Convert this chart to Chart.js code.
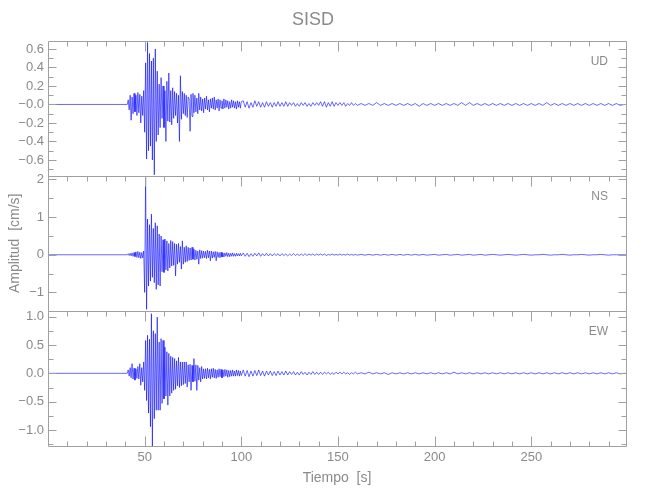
<!DOCTYPE html>
<html>
<head>
<meta charset="utf-8">
<script src="https://cdn.jsdelivr.net/npm/chart.js@4.4.1/dist/chart.umd.min.js"></script>
<style>
  body { margin: 0; background: #fff; }
  canvas { display: block; }
</style>
</head>
<body>
<canvas id="sismo" width="650" height="500"></canvas>
<script>
  // Sampling segments (start time, step in seconds)
  const onsetStart = 41, onsetStep = 0.5;   // 41 .. 100 s
  const codaStart = 101, codaStep = 1;      // 101 .. 160 s
  const tailStart = 162, tailStep = 2;      // 162 .. 298 s
  const traceEnd = 299;

  const components = ['UD', 'NS', 'EW'];

  // UD component [cm/s]
  const udOnset = [
    0.00, 0.05, -0.06, 0.10, -0.17, 0.08, -0.10, 0.12, -0.08, 0.10,
    -0.12, 0.13, -0.09, 0.11, -0.20, 0.09, -0.12, 0.15, -0.30, 0.45,
    -0.59, 0.67, -0.50, 0.55, -0.45, 0.47, -0.60, 0.50, -0.76, 0.60,
    -0.40, 0.36, -0.33, 0.22, -0.25, 0.29, -0.15, 0.20, -0.25, 0.15,
    -0.40, 0.25, -0.18, 0.34, -0.19, 0.15, -0.22, 0.18, -0.15, 0.14,
    -0.12, 0.12, -0.20, 0.10, -0.40, 0.31, -0.16, 0.14, -0.10, 0.12,
    -0.12, 0.10, -0.14, 0.08, 0.06, -0.29, 0.11, -0.13, 0.12, -0.09,
    0.10, -0.08, 0.07, -0.10, 0.12, -0.06, 0.08, -0.07, 0.06, -0.09,
    0.07, -0.05, 0.09, -0.06, 0.05, -0.08, 0.06, -0.04, 0.07, -0.05,
    0.08, -0.06, 0.05, -0.04, 0.06, -0.07, 0.05, -0.04, 0.04, -0.05,
    0.06, -0.04, 0.05, -0.03, 0.04, -0.05, 0.03, -0.04, 0.05, -0.03,
    0.04, -0.04, 0.03, -0.05, 0.04, -0.03, 0.03, -0.04, 0.03
  ];
  const udCoda = [
    0.04, -0.03, 0.03, -0.04, 0.02, -0.03, 0.04, -0.02, 0.03, -0.03,
    0.02, -0.03, 0.03, -0.02, 0.02, -0.03, 0.02, -0.02, 0.03, -0.02,
    0.02, -0.02, 0.03, -0.02, 0.02, -0.01, 0.02, -0.02, 0.01, -0.02,
    0.02, -0.01, 0.02, -0.02, 0.01, -0.02, 0.02, -0.01, 0.02, -0.01,
    0.03, -0.02, 0.03, -0.03, 0.02, -0.02, 0.03, -0.02, 0.02, -0.01,
    0.02, -0.01, 0.02, -0.02, 0.01, -0.01, 0.02, -0.01, 0.01, -0.01
  ];
  const udTail = [
    0.01, -0.01, 0.01, -0.01, 0.02, -0.01, 0.01, -0.01, 0.01, -0.01,
    0.01, -0.01, 0.01, -0.01, 0.01, -0.02, 0.01, -0.01, 0.01, -0.01,
    0.01, -0.01, 0.01, -0.01, 0.01, -0.01, 0.02, -0.01, 0.02, -0.01,
    0.01, -0.01, 0.01, -0.01, 0.01, -0.01, 0.01, -0.01, 0.01, -0.01,
    0.01, -0.01, 0.01, -0.01, 0.01, -0.01, 0.01, -0.01, 0.02, -0.01,
    0.01, -0.01, 0.01, -0.01, 0.01, -0.01, 0.01, -0.01, 0.01, -0.01,
    0.01, -0.01, 0.01, -0.01, 0.01, -0.01, 0.01, -0.01, 0.00
  ];

  // NS component [cm/s]
  const nsOnset = [
    0.00, 0.03, -0.02, 0.04, -0.03, 0.05, -0.04, 0.06, -0.05, 0.08,
    -0.07, 0.09, -0.08, 0.07, -0.10, 0.06, -0.08, 0.10, -1.00, 2.05,
    -1.45, 0.95, -0.83, 0.80, -0.70, 1.08, -0.60, 0.70, -0.74, 0.85,
    -0.92, 0.77, -0.80, 0.55, -0.83, 0.50, -0.45, 0.40, -0.47, 0.42,
    -0.40, 0.37, -0.43, 0.30, -0.35, 0.38, -0.30, 0.35, -0.28, 0.30,
    -0.56, 0.28, -0.25, 0.30, -0.20, 0.22, -0.38, 0.37, -0.25, 0.20,
    -0.20, 0.24, -0.18, 0.20, -0.15, 0.18, -0.14, 0.20, -0.12, 0.15,
    -0.14, 0.12, -0.12, 0.10, -0.25, 0.13, -0.10, 0.11, -0.09, 0.10,
    -0.08, 0.09, -0.10, 0.12, -0.08, 0.10, -0.16, 0.10, -0.09, 0.08,
    -0.07, 0.09, -0.16, 0.08, -0.07, 0.06, -0.08, 0.07, -0.06, 0.05,
    -0.06, 0.05, -0.04, 0.06, -0.05, 0.04, -0.05, 0.04, -0.04, 0.05,
    -0.04, 0.03, -0.04, 0.04, -0.03, 0.03, -0.03, 0.04, -0.03
  ];
  const nsCoda = [
    0.05, -0.04, 0.04, -0.05, 0.03, -0.04, 0.04, -0.03, 0.05, -0.04,
    0.03, -0.03, 0.04, -0.03, 0.03, -0.03, 0.03, -0.02, 0.03, -0.03,
    0.03, -0.02, 0.02, -0.03, 0.02, -0.02, 0.03, -0.02, 0.02, -0.02,
    0.02, -0.02, 0.03, -0.02, 0.02, -0.01, 0.02, -0.02, 0.02, -0.01,
    0.02, -0.01, 0.02, -0.02, 0.01, -0.01, 0.02, -0.01, 0.01, -0.01,
    0.02, -0.01, 0.01, -0.01, 0.02, -0.01, 0.01, -0.01, 0.01, -0.01
  ];
  const nsTail = [
    0.01, -0.01, 0.01, -0.01, 0.01, -0.01, 0.01, -0.01, 0.01, -0.01,
    0.01, -0.01, 0.01, -0.01, 0.01, -0.01, 0.01, -0.01, 0.00, 0.01,
    -0.01, 0.00, 0.01, -0.01, 0.00, 0.01, -0.01, 0.00, 0.01, -0.01,
    0.00, 0.01, -0.01, 0.00, 0.01, 0.00, -0.01, 0.00, 0.01, 0.00,
    -0.01, 0.00, 0.01, 0.00, -0.01, 0.00, 0.00, 0.01, 0.00, -0.01,
    0.00, 0.00, 0.01, 0.00, -0.01, 0.00, 0.00, 0.01, 0.00, -0.01,
    0.00, 0.00, 0.01, 0.00, -0.01, 0.00, 0.00, 0.00, 0.00
  ];

  // EW component [cm/s]
  const ewOnset = [
    0.00, 0.06, -0.05, 0.10, -0.08, 0.17, -0.10, 0.09, -0.12, 0.08,
    -0.09, 0.12, -0.10, 0.17, -0.21, 0.10, -0.15, 0.20, -0.30, 0.58,
    -0.48, 0.67, -0.70, 0.60, -0.94, 1.05, -1.28, 0.75, -0.80, 0.70,
    -0.65, 0.99, -0.65, 0.55, -0.65, 0.61, -0.53, 0.58, -0.45, 0.46,
    -0.40, 0.38, -0.56, 0.35, -0.40, 0.30, -0.35, 0.28, -0.30, 0.26,
    -0.28, 0.22, -0.22, 0.28, -0.25, 0.20, -0.22, 0.20, -0.20, 0.20,
    -0.18, 0.20, -0.24, 0.15, -0.15, 0.16, -0.30, 0.14, -0.15, 0.26,
    -0.14, 0.15, -0.30, 0.14, -0.12, 0.10, -0.15, 0.12, -0.10, 0.08,
    -0.09, 0.08, -0.10, 0.09, -0.08, 0.07, -0.10, 0.08, -0.07, 0.09,
    -0.08, 0.07, -0.09, 0.06, -0.07, 0.08, -0.06, 0.07, -0.08, 0.06,
    -0.06, 0.07, -0.05, 0.06, -0.07, 0.05, -0.06, 0.05, -0.05, 0.06,
    -0.05, 0.04, -0.05, 0.06, -0.04, 0.05, -0.05, 0.04, -0.04
  ];
  const ewCoda = [
    0.06, -0.05, 0.05, -0.06, 0.04, -0.05, 0.05, -0.04, 0.06, -0.04,
    0.04, -0.05, 0.04, -0.03, 0.04, -0.04, 0.03, -0.04, 0.04, -0.03,
    0.03, -0.03, 0.04, -0.03, 0.03, -0.02, 0.03, -0.03, 0.02, -0.03,
    0.03, -0.02, 0.02, -0.03, 0.02, -0.02, 0.03, -0.02, 0.02, -0.02,
    0.02, -0.02, 0.02, -0.01, 0.02, -0.02, 0.01, -0.02, 0.02, -0.01,
    0.02, -0.01, 0.02, -0.01, 0.01, -0.02, 0.01, -0.01, 0.02, -0.01
  ];
  const ewTail = [
    0.01, -0.01, 0.02, -0.01, 0.01, -0.01, 0.01, -0.02, 0.01, -0.01,
    0.01, -0.01, 0.01, -0.01, 0.01, -0.01, 0.01, -0.01, 0.01, -0.01,
    0.01, -0.01, 0.01, -0.01, 0.02, -0.01, 0.01, -0.01, 0.01, -0.01,
    0.01, -0.01, 0.01, -0.01, 0.01, -0.01, 0.01, -0.01, 0.01, -0.01,
    0.01, -0.01, 0.01, -0.01, 0.01, -0.01, 0.01, -0.01, 0.01, -0.01,
    0.01, -0.01, 0.01, -0.01, 0.01, -0.01, 0.01, -0.01, 0.01, -0.01,
    0.01, -0.01, 0.01, -0.01, 0.01, -0.01, 0.01, -0.01, 0.00
  ];

  // Axis ranges and tick labels
  const timeRange = [0, 299];
  const timeTicks = [50, 100, 150, 200, 250];
  const udRange = [-0.77, 0.69];
  const nsRange = [-1.49, 2.1];
  const ewRange = [-1.28, 1.1];
  const udTicks = [-0.6, -0.4, -0.2, 0, 0.2, 0.4, 0.6];
  const nsTicks = [-1, 0, 1, 2];
  const ewTicks = [-1.0, -0.5, 0, 0.5, 1.0];

  const traceColor = 'rgb(0,0,255)';
  const axisColor = '#a0a0a0';
  const textColor = '#8a8a8a';
  const fontFamily = "'Liberation Sans', Arial, sans-serif";

  function buildTrace(onset, coda, tail) {
    const pts = [{ x: 0, y: 0 }];
    onset.forEach((v, i) => pts.push({ x: onsetStart + i * onsetStep, y: v }));
    coda.forEach((v, i) => pts.push({ x: codaStart + i * codaStep, y: v }));
    tail.forEach((v, i) => pts.push({ x: tailStart + i * tailStep, y: v }));
    pts.push({ x: traceEnd, y: 0 });
    return pts;
  }

  const panels = [
    { id: 'yUD', name: components[0], range: udRange, ticks: udTicks, major: 0.2, minor: 0.1, data: buildTrace(udOnset, udCoda, udTail), fmt: v => v === 0 ? '\u22120.0' : (v < 0 ? '\u2212' : '') + Math.abs(v).toFixed(1) },
    { id: 'yNS', name: components[1], range: nsRange, ticks: nsTicks, major: 1, minor: 0.5, data: buildTrace(nsOnset, nsCoda, nsTail), fmt: v => (v < 0 ? '\u2212' : '') + Math.abs(v).toFixed(0) },
    { id: 'yEW', name: components[2], range: ewRange, ticks: ewTicks, major: 0.5, minor: 0.25, data: buildTrace(ewOnset, ewCoda, ewTail), fmt: v => (v < 0 ? '\u2212' : '') + Math.abs(v).toFixed(1) }
  ];

  // frame, inward ticks and component names
  const framePlugin = {
    id: 'frame',
    afterDraw(chart) {
      const { ctx, chartArea: a, scales } = chart;
      const xs = scales.x;
      ctx.save();
      ctx.strokeStyle = axisColor;
      ctx.lineWidth = 1;
      panels.forEach((p, i) => {
        const ys = scales[p.id];
        const top = Math.round(ys.top) + 0.5, bot = Math.round(ys.bottom) + 0.5;
        const l = Math.round(a.left) + 0.5, r = Math.round(a.right) + 0.5;
        ctx.beginPath();
        ctx.rect(l, top, r - l, bot - top);
        // y ticks on both sides
        const k0 = Math.ceil(ys.min / p.minor - 1e-6), k1 = Math.floor(ys.max / p.minor + 1e-6);
        for (let k = k0; k <= k1; k++) {
          const v = k * p.minor;
          const isMajor = Math.abs(v / p.major - Math.round(v / p.major)) < 1e-6;
          const len = isMajor ? 8 : 5;
          const py = Math.round(ys.getPixelForValue(v)) + 0.5;
          ctx.moveTo(l, py); ctx.lineTo(l + len, py);
          ctx.moveTo(r, py); ctx.lineTo(r - len, py);
        }
        // x ticks at top of each panel, and at bottom of the last one
        for (let t = 10; t < xs.max; t += 10) {
          const isMajor = t % 50 === 0;
          const len = isMajor ? 10 : 5;
          const px = Math.round(xs.getPixelForValue(t)) + 0.5;
          ctx.moveTo(px, top); ctx.lineTo(px, top + len);
          if (i === panels.length - 1) {
            ctx.moveTo(px, bot); ctx.lineTo(px, bot - len);
          }
        }
        ctx.stroke();
        ctx.fillStyle = textColor;
        ctx.font = '12px ' + fontFamily;
        ctx.textAlign = 'right';
        ctx.textBaseline = 'middle';
        ctx.fillText(p.name, a.right - 18, ys.top + 21);
      });
      ctx.restore();
    }
  };

  const scales = {
    x: {
      type: 'linear',
      min: timeRange[0],
      max: timeRange[1],
      afterBuildTicks: s => { s.ticks = timeTicks.map(v => ({ value: v })); },
      afterFit: s => { s.height = 54; },
      grid: { display: false, drawTicks: false },
      border: { display: false },
      ticks: { color: textColor, padding: 4, maxRotation: 0, autoSkip: false, font: { family: fontFamily, size: 13 } },
      title: { display: true, text: 'Tiempo  [s]', color: textColor, font: { family: fontFamily, size: 14 }, padding: { top: 0, bottom: 13 } }
    }
  };
  // stacked left axes are placed bottom-up, so add them in reverse
  panels.slice().reverse().forEach(p => {
    scales[p.id] = {
      type: 'linear',
      position: 'left',
      stack: 'amp',
      stackWeight: 1,
      min: p.range[0],
      max: p.range[1],
      afterBuildTicks: s => { s.ticks = p.ticks.map(v => ({ value: v })); },
      afterFit: s => { s.width = 48; },
      grid: { display: false, drawTicks: false },
      border: { display: false },
      ticks: { color: textColor, padding: 4, autoSkip: false, font: { family: fontFamily, size: 13 }, callback: v => p.fmt(v) },
      title: { display: p.id === 'yNS', text: 'Amplitud  [cm/s]', color: textColor, font: { family: fontFamily, size: 14 }, padding: { top: 7, bottom: 0 } }
    };
  });

  const ctx = document.getElementById('sismo').getContext('2d');
  new Chart(ctx, {
    type: 'line',
    data: {
      datasets: panels.map(p => ({
        label: p.name,
        data: p.data,
        yAxisID: p.id,
        borderColor: traceColor,
        borderWidth: 0.6,
        pointRadius: 0,
        tension: 0
      }))
    },
    options: {
      responsive: false,
      animation: false,
      layout: { padding: { left: 0, right: 24, top: 0, bottom: 0 } },
      plugins: {
        legend: { display: false },
        tooltip: { enabled: false },
        title: {
          display: true,
          text: 'SISD',
          color: textColor,
          font: { family: fontFamily, size: 18, weight: 'normal' },
          padding: { top: 9, bottom: 10 }
        }
      },
      scales: scales
    },
    plugins: [framePlugin]
  });
</script>
</body>
</html>
